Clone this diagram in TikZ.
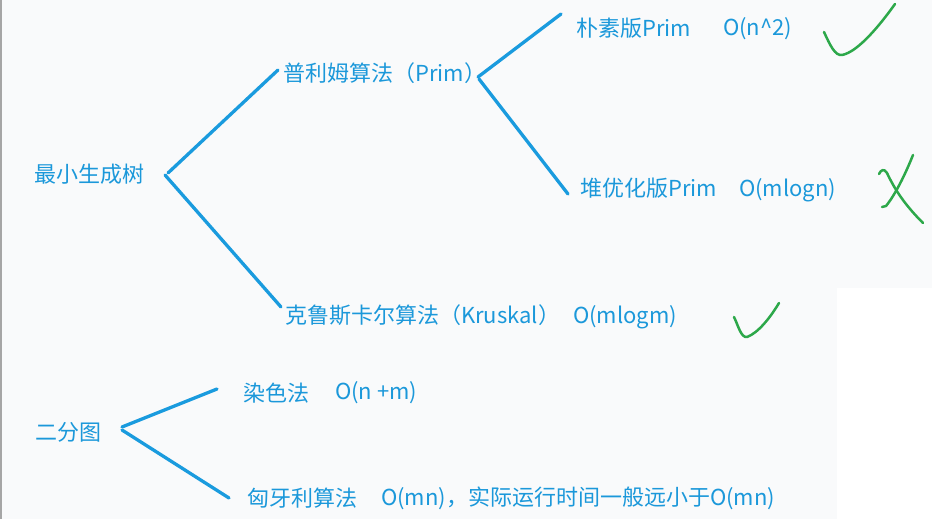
\documentclass[tikz,border=0pt]{standalone}
\usepackage{fontspec}
\setmainfont{Noto Sans CJK SC}
\definecolor{txtblue}{HTML}{1B98DA}
\definecolor{lnblue}{HTML}{1A9BDE}
\definecolor{mkgreen}{HTML}{2DA84A}
\definecolor{bgc}{HTML}{F9FAFB}
\begin{document}
\begin{tikzpicture}[x=1pt,y=-1pt,
 lbl/.style={anchor=west,inner sep=0pt,text=txtblue,font=\fontsize{22}{26}\selectfont},
 br/.style={draw=lnblue,line width=3.3pt,line cap=round},
 mk/.style={draw=mkgreen,line width=2.5pt,line cap=round,line join=round}]
\fill[bgc] (0,0) rectangle (932,519);
\fill[white] (837,288) rectangle (932,519);
\fill[gray!70] (0,0) rectangle (1.5,519);
\useasboundingbox (0,0) rectangle (932,519);
% texts
\node[lbl] (mst) at (34,174) {最小生成树};
\node[lbl] (prim) at (283,73) {普利姆算法（Prim）};
\node[lbl] (naive) at (576,28) {朴素版Prim};
\node[lbl] (naivec) at (723,29) {O(n\textasciicircum 2)};
\node[lbl] (heap) at (580,188) {堆优化版Prim};
\node[lbl] (heapc) at (739,190) {O(mlogn)};
\node[lbl] (krus) at (285,315) {克鲁斯卡尔算法（Kruskal）};
\node[lbl] (krusc) at (573,317) {O(mlogm)};
\node[lbl] (bip) at (35,432) {二分图};
\node[lbl] (color) at (243,393) {染色法};
\node[lbl] (colorc) at (335,393) {O(n +m)};
\node[lbl] (hung) at (247,498) {匈牙利算法};
\node[lbl] (hungc) at (381,498) {O(mn)，实际运行时间一般远小于O(mn)};
% connector ends
\coordinate (mstA) at (168,173);
\coordinate (mstB) at (165,175);
\coordinate (primL) at (278,70);
\coordinate (krusL) at (281,307);
\coordinate (primA) at (478,77);
\coordinate (primB) at (479,79);
\coordinate (naiveL) at (561,14);
\coordinate (heapL) at (568,194);
\coordinate (bipA) at (122,427);
\coordinate (bipB) at (122,430);
\coordinate (colorL) at (217,389);
\coordinate (hungL) at (229,498);
\draw[br] (mstA) -- (primL);
\draw[br] (mstB) -- (krusL);
\draw[br] (primA) -- (naiveL);
\draw[br] (primB) -- (heapL);
\draw[br] (bipA) -- (colorL);
\draw[br] (bipB) -- (hungL);
% marks
\draw[mk] (824,32) .. controls (830,45) and (835,56) .. (842,55) .. controls (858,52) and (880,25) .. (895,4);
\draw[mk] (734,317) .. controls (738,325) and (741,338) .. (747,337) .. controls (758,333) and (770,318) .. (779,303);
\draw[mk] (879,174) .. controls (881,170) and (884,168) .. (887,173) .. controls (895,190) and (905,205) .. (923,223);
\draw[mk] (913,155) .. controls (905,175) and (895,195) .. (886,206) -- (882,207);
\end{tikzpicture}
\end{document}
